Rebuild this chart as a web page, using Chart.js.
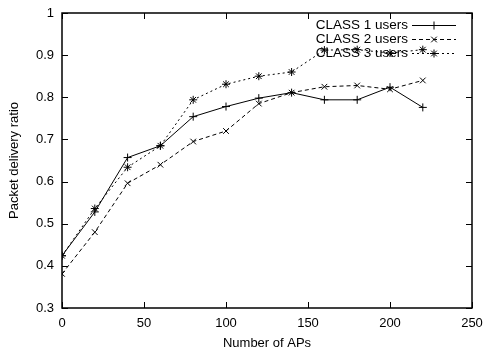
<!DOCTYPE html>
<html>
<head>
<meta charset="utf-8">
<script src="https://cdn.jsdelivr.net/npm/chart.js@4.4.0/dist/chart.umd.min.js"></script>
<style>
  html, body { margin: 0; padding: 0; background: #fff; }
  #wrap { width: 483px; height: 351px; }
</style>
</head>
<body>
<div id="wrap"><canvas id="myChart" width="483" height="351"></canvas></div>
<script>
var apCounts = [0, 20, 40, 60, 80, 100, 120, 140, 160, 180, 200, 220];
var class1 = [0.424, 0.528, 0.657, 0.685, 0.754, 0.778, 0.798, 0.811, 0.794, 0.794, 0.824, 0.776];
var class2 = [0.381, 0.480, 0.596, 0.640, 0.695, 0.720, 0.785, 0.811, 0.825, 0.828, 0.819, 0.840];
var class3 = [0.424, 0.536, 0.634, 0.685, 0.794, 0.831, 0.850, 0.860, 0.912, 0.913, 0.905, 0.913];
var seriesNames = ["CLASS 1 users", "CLASS 2 users", "CLASS 3 users"];
var xTicks = [0, 50, 100, 150, 200, 250];
var yTicks = [0.3, 0.4, 0.5, 0.6, 0.7, 0.8, 0.9, 1];

var FONT = "'Liberation Sans', Arial, Helvetica, sans-serif";

function toPoints(ys) {
  return apCounts.map(function (x, i) { return { x: x, y: ys[i] }; });
}

// gnuplot-like frame, inward ticks on all four sides, and legend box
var gnuFrame = {
  id: "gnuFrame",
  afterDatasetsDraw: function (chart) {
    var ctx = chart.ctx;
    var a = chart.chartArea;
    var xs = chart.scales.x, ys = chart.scales.y;
    ctx.save();
    ctx.strokeStyle = "#000";
    ctx.lineWidth = 1;
    ctx.setLineDash([]);
    ctx.beginPath();
    xTicks.forEach(function (v) {
      var px = Math.round(xs.getPixelForValue(v)) + 0.5;
      ctx.moveTo(px, a.bottom); ctx.lineTo(px, a.bottom - 6);
      ctx.moveTo(px, a.top); ctx.lineTo(px, a.top + 6);
    });
    yTicks.forEach(function (v) {
      var py = Math.round(ys.getPixelForValue(v)) + 0.5;
      ctx.moveTo(a.left, py); ctx.lineTo(a.left + 6, py);
      ctx.moveTo(a.right, py); ctx.lineTo(a.right - 6, py);
    });
    ctx.stroke();
    ctx.lineWidth = 1.5;
    ctx.strokeRect(a.left, a.top, a.right - a.left, a.bottom - a.top);

    // legend
    ctx.font = "13.5px " + FONT;
    ctx.fillStyle = "#000";
    ctx.textAlign = "right";
    ctx.textBaseline = "middle";
    var textRight = a.right - 64;
    var lineL = a.right - 60, lineR = a.right - 16;
    chart.data.datasets.forEach(function (ds, i) {
      var y = a.top + 12 + i * 14;
      ctx.fillText(seriesNames[i], textRight, y);
      ctx.lineWidth = 1;
      ctx.setLineDash(ds.borderDash || []);
      ctx.beginPath();
      ctx.moveTo(lineL, y + 0.5); ctx.lineTo(lineR, y + 0.5);
      ctx.stroke();
      ctx.setLineDash([]);
      Chart.helpers.drawPoint(ctx, { pointStyle: ds.pointStyle, radius: 4, borderWidth: 1 }, (lineL + lineR) / 2, y + 0.5);
    });
    ctx.restore();
  }
};

var common = {
  borderColor: "#000",
  backgroundColor: "#000",
  borderWidth: 1,
  pointRadius: 4,
  pointBorderWidth: 1,
  pointBorderColor: "#000",
  fill: false,
  tension: 0
};

function noOverflow(s) {
  s.paddingLeft = 0; s.paddingRight = 0; s.paddingTop = 0; s.paddingBottom = 0;
}

new Chart("myChart", {
  type: "line",
  data: {
    datasets: [
      Object.assign({ label: seriesNames[0], data: toPoints(class1), pointStyle: "cross" }, common),
      Object.assign({ label: seriesNames[1], data: toPoints(class2), pointStyle: "crossRot", borderDash: [4, 3] }, common),
      Object.assign({ label: seriesNames[2], data: toPoints(class3), pointStyle: "star", borderDash: [2, 3] }, common)
    ]
  },
  options: {
    responsive: false,
    animation: false,
    layout: { padding: { left: 0, right: 11, top: 13, bottom: 0 } },
    plugins: { legend: { display: false }, tooltip: { enabled: false } },
    scales: {
      x: {
        type: "linear",
        min: 0, max: 250,
        afterBuildTicks: function (s) { s.ticks = xTicks.map(function (v) { return { value: v }; }); },
        afterFit: function (s) { s.height = 43; noOverflow(s); },
        grid: { display: false, drawTicks: false },
        border: { display: false },
        ticks: { color: "#000", padding: 8, maxRotation: 0, font: { family: FONT, size: 13 } },
        title: { display: true, text: "Number of APs", color: "#000", padding: { top: 3, bottom: 0 }, font: { family: FONT, size: 13 } }
      },
      y: {
        type: "linear",
        min: 0.3, max: 1,
        afterBuildTicks: function (s) { s.ticks = yTicks.map(function (v) { return { value: v }; }); },
        afterFit: function (s) { s.width = 62; noOverflow(s); },
        grid: { display: false, drawTicks: false },
        border: { display: false },
        ticks: {
          color: "#000", padding: 8, font: { family: FONT, size: 13 },
          callback: function (v) { return String(Number(v.toFixed(1))); }
        },
        title: { display: true, text: "Packet delivery ratio", color: "#000", padding: { top: 7, bottom: 0 }, font: { family: FONT, size: 13 } }
      }
    }
  },
  plugins: [gnuFrame]
});
</script>
</body>
</html>
